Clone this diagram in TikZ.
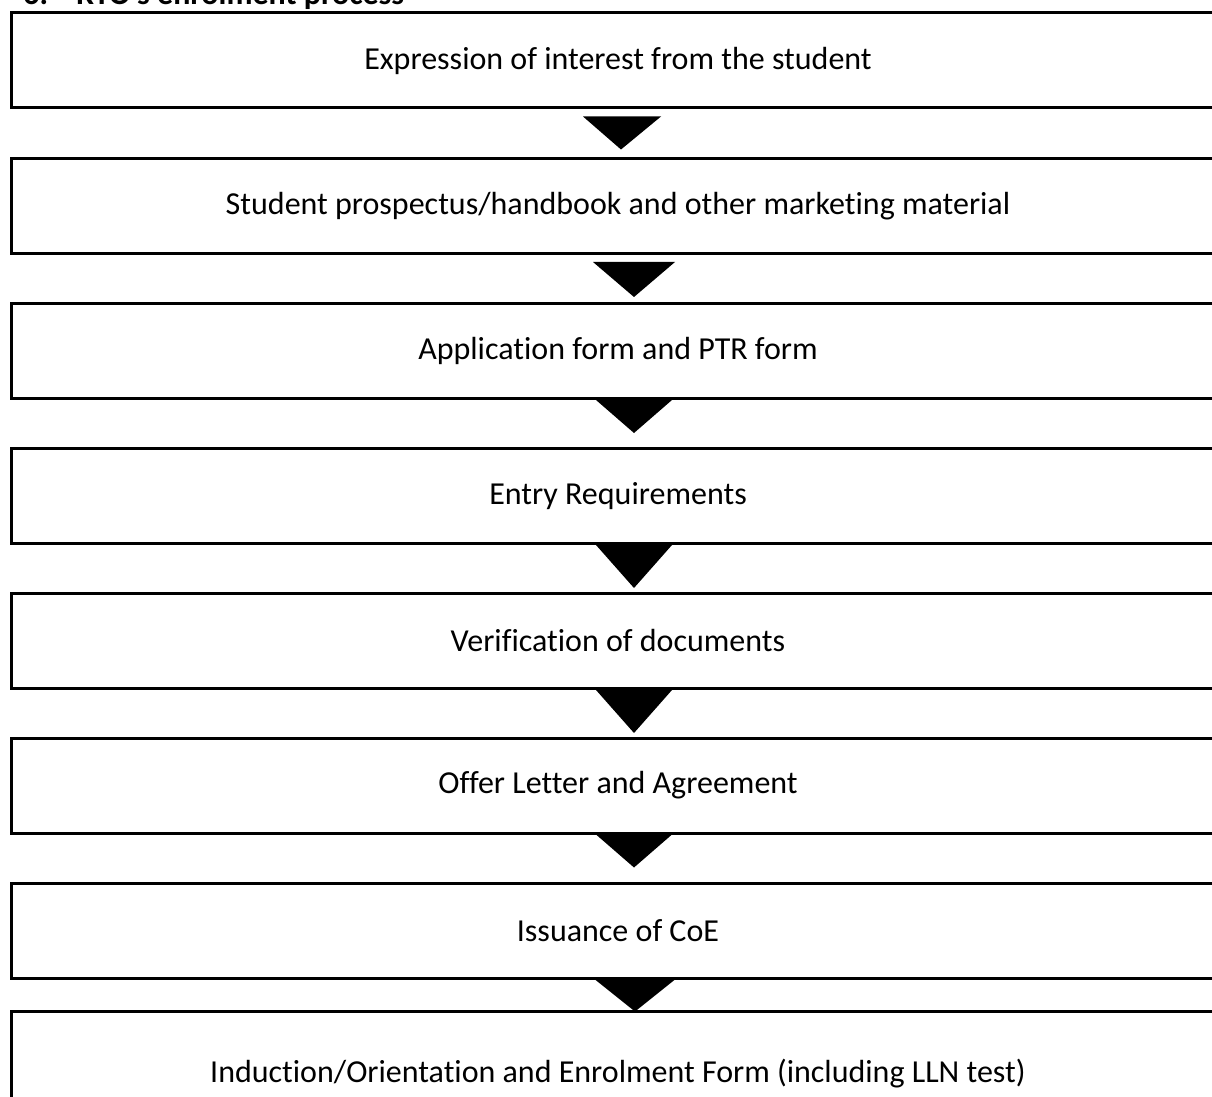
\documentclass[tikz,border=0pt]{standalone}
\usepackage{fontspec}
\setmainfont{Carlito}[Ligatures=NoCommon]
\usetikzlibrary{positioning}

\tikzset{
	stepbox/.style={draw, line width=1.5pt, rectangle, minimum width=607pt,
		minimum height=47.5pt, inner sep=0pt, font=\fontsize{16}{19}\selectfont},
	arrowtri/.style={fill=black}
}

\begin{document}
\begin{tikzpicture}[x=0.5pt,y=-0.5pt]
		\useasboundingbox (0,0) rectangle (1212,1097);
		\clip (0,0) rectangle (1212,1097);
		% title, cut by the top of the page
		\node[anchor=base west, inner sep=0pt, font=\fontsize{16}{19}\selectfont\bfseries] (title) at (23,5) {6.\hspace{14pt}RTO's enrolment process};
		% the steps
		\node[stepbox] (s1) at (618,60.5) {Expression of interest from the student};
		\node[stepbox] (s2) at (618,206) {Student prospectus/handbook and other marketing material};
		\node[stepbox] (s3) at (618,351) {Application form and PTR form};
		\node[stepbox] (s4) at (618,496) {Entry Requirements};
		\node[stepbox] (s5) at (618,641) {Verification of documents};
		\node[stepbox] (s6) at (618,785.5) {Offer Letter and Agreement};
		\node[stepbox] (s7) at (618,930.5) {Issuance of CoE};
		\node[stepbox, minimum height=62.5pt] (s8) at (618,1073.5) {Induction/Orientation and Enrolment Form (including LLN test)};
		% arrows between the steps: from, gap above, depth, left, right, tip
		\foreach \a/\gap/\d/\l/\r/\t in {s1/7/33/-35/43/3, s2/7/35/-25/57/16, s3/0/33/-22/54/16,
			s4/0/43/-22/54/16, s5/0/43/-22/54/16, s6/0/33/-22/54/16, s7/0/32/-23/57/17}
		{
			\fill[arrowtri] ([xshift=\l*0.5pt, yshift=-\gap*0.5pt]\a.south)
				-- ([xshift=\r*0.5pt, yshift=-\gap*0.5pt]\a.south)
				-- ([xshift=\t*0.5pt, yshift=-\gap*0.5pt-\d*0.5pt]\a.south) -- cycle;
		}
		\end{tikzpicture}
\end{document}
